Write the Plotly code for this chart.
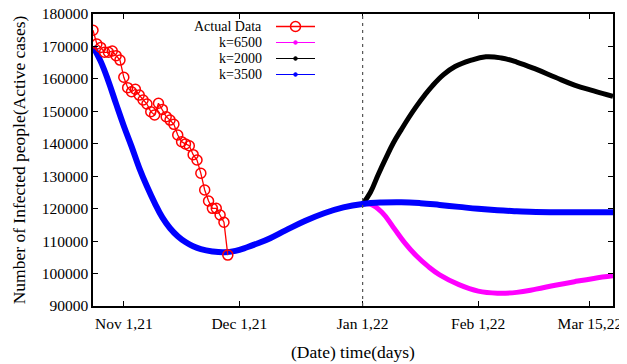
import plotly.graph_objects as go

# ---------------- data ----------------
actual_days = list(range(0, 36))
actual_vals = [175000, 170750, 169700, 168200, 168200, 168600, 167150, 165800,
               160500, 157300, 156050, 156800, 155000, 153500, 152250, 149900,
               148900, 152500, 150600, 148350, 147300, 146000, 142700, 140650,
               139950, 139400, 136650, 135000, 130900, 125750, 122350, 120100,
               120100, 118050, 115800, 105700]

k3500_days = [0, 2, 4, 6, 8, 10, 12, 14, 16, 18, 20, 22, 24, 26, 28, 31, 34, 37,
              40, 43, 46, 50, 55, 60, 65, 70, 75, 80, 85, 90, 95, 100, 105, 110,
              115, 120, 125, 130, 135]
k3500_vals = [170000, 165400, 159300, 152300, 145500, 139200, 132600, 126900,
              121800, 117300, 113960, 111500, 109700, 108400, 107500, 106800,
              106550, 107000, 108100, 109400, 110900, 113300, 116200, 118600,
              120400, 121450, 121900, 122000, 121700, 121150, 120550, 119950,
              119500, 119200, 118950, 118900, 118900, 118900, 118900]

k6500_days = [70, 72, 75, 78, 81, 84, 87, 90, 95, 100, 105, 110, 115, 120, 125,
              130, 135]
k6500_vals = [121450, 121400, 118900, 114200, 109400, 105400, 102200, 99600,
              96600, 94600, 93950, 94200, 95200, 96400, 97500, 98500, 99300]

k2000_days = [70, 72, 74, 76, 78, 80, 82, 84, 86, 88, 91, 94, 98, 102, 106, 110,
              115, 120, 125, 130, 135]
k2000_vals = [121450, 125000, 130400, 135500, 140300, 144300, 148100, 151600,
              154800, 157700, 161300, 163800, 165700, 166800, 166450, 165200,
              163000, 160500, 158100, 156300, 154600]

tick_days = [8, 38, 70, 100, 129]
tick_labels = ["Nov 1,21", "Dec 1,21", "Jan 1,22", "Feb 1,22", "Mar 15,22"]
split_day = 70

legend_names = ["Actual Data", "k=6500", "k=2000", "k=3500"]
legend_colors = ["#ff0000", "#ff00ff", "#000000", "#0000ff"]

# ---------------- figure ----------------
FONT = "Liberation Serif, Times New Roman, serif"
OFF = 8                      # page body margin of the html page
W, H = 627 - OFF, 364 - OFF
ML, MR, MT, MB = 93 - OFF, 14, 14 - OFF, 58
PW, PH = W - ML - MR, H - MT - MB

fig = go.Figure()

fig.add_trace(go.Scatter(x=k6500_days, y=k6500_vals, mode="lines",
                         line=dict(color="#ff00ff", width=5, shape="spline", smoothing=1.2),
                         name="k=6500"))
fig.add_trace(go.Scatter(x=k2000_days, y=k2000_vals, mode="lines",
                         line=dict(color="#000000", width=5, shape="spline", smoothing=1.2),
                         name="k=2000"))
fig.add_trace(go.Scatter(x=k3500_days, y=k3500_vals, mode="lines",
                         line=dict(color="#0000ff", width=6, shape="spline", smoothing=1.2),
                         name="k=3500"))
fig.add_trace(go.Scatter(x=actual_days, y=actual_vals, mode="lines+markers",
                         line=dict(color="#ff0000", width=1.3),
                         marker=dict(symbol="circle-open", size=10, color="#ff0000",
                                     line=dict(width=1.5, color="#ff0000")),
                         name="Actual Data"))

fig.add_vline(x=split_day, line=dict(color="#555555", width=1.2, dash="3px,4px"))


# custom legend (text right-aligned, sample to the right, like gnuplot)
def px_x(p):  # page pixel -> paper
    return (p - OFF - ML) / PW


def px_y(p):
    return (H - MB - (p - OFF)) / PH


row_y = [26.5, 42.5, 58.5, 74.5]
for i, (name, col) in enumerate(zip(legend_names, legend_colors)):
    yp = px_y(row_y[i])
    fig.add_annotation(x=px_x(264), y=yp, xref="paper", yref="paper",
                       text=name, showarrow=False, xanchor="right", yanchor="middle",
                       font=dict(family=FONT, size=14, color="black"))
    fig.add_shape(type="line", xref="paper", yref="paper",
                  x0=px_x(276), x1=px_x(315), y0=yp, y1=yp,
                  line=dict(color=col, width=1.3 if i == 0 else 1.2))
    if i == 0:
        r = 5
        fig.add_shape(type="circle", xref="paper", yref="paper",
                      x0=px_x(295.5 - r), x1=px_x(295.5 + r),
                      y0=px_y(row_y[i] + r), y1=px_y(row_y[i] - r),
                      line=dict(color=col, width=1.5))
    else:
        r = 1.8
        fig.add_shape(type="circle", xref="paper", yref="paper",
                      x0=px_x(295.5 - r), x1=px_x(295.5 + r),
                      y0=px_y(row_y[i] + r), y1=px_y(row_y[i] - r),
                      fillcolor=col, line=dict(color=col, width=1))

fig.update_layout(
    width=W, height=H,
    margin=dict(l=ML, r=MR, t=MT, b=MB, autoexpand=False),
    paper_bgcolor="white", plot_bgcolor="white",
    showlegend=False,
    font=dict(family=FONT, size=15.5, color="black"),
)

fig.update_xaxes(
    range=[0, 135], tickvals=tick_days, ticktext=tick_labels,
    showgrid=False, zeroline=False,
    showline=True, linecolor="black", linewidth=1.5, mirror="allticks",
    ticks="inside", ticklen=5, tickcolor="black", tickwidth=1,
    tickfont=dict(family=FONT, size=15.5), ticklabelstandoff=3,
    ticklabeloverflow="allow",
    title=dict(text="(Date) time(days)", font=dict(family=FONT, size=17.5), standoff=14),
)
fig.update_yaxes(
    range=[90000, 180000], dtick=10000, tickformat="d",
    showgrid=False, zeroline=False,
    showline=True, linecolor="black", linewidth=1.5, mirror="allticks",
    ticks="inside", ticklen=5, tickcolor="black", tickwidth=1,
    tickfont=dict(family=FONT, size=15.5), ticklabeloverflow="allow",
    title=dict(text="Number of Infected people(Active cases)",
               font=dict(family=FONT, size=17.5), standoff=12),
)

fig.write_html("out.html")
